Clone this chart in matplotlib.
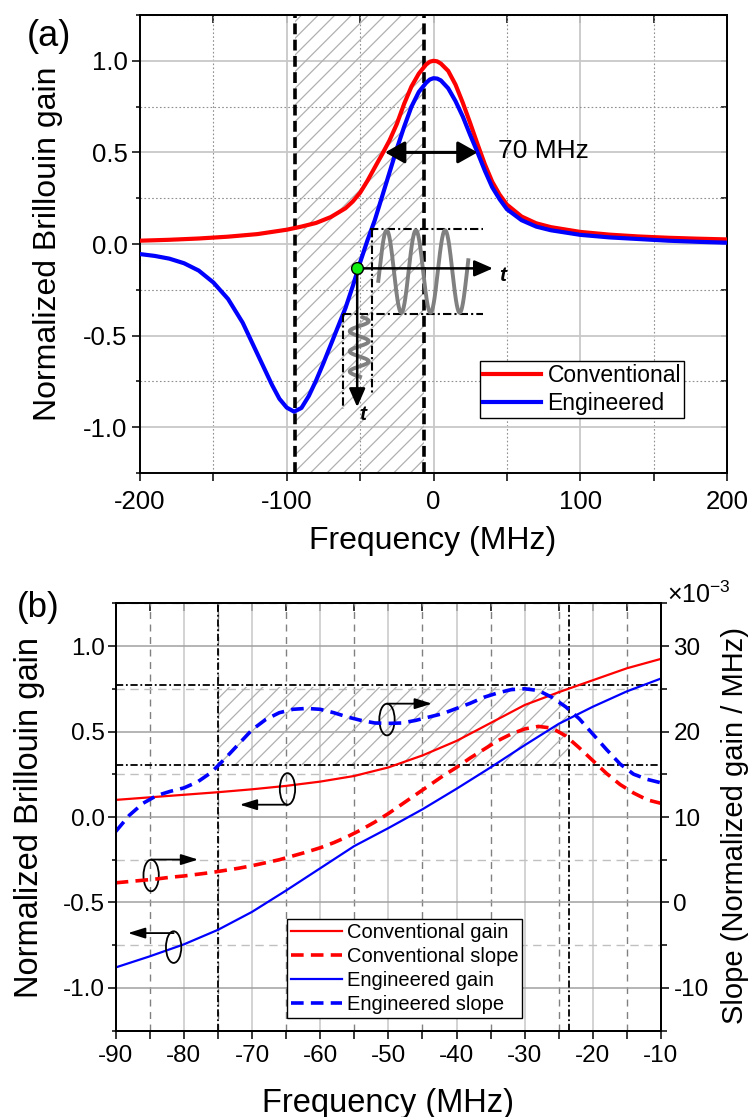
import numpy as np
import matplotlib.pyplot as plt
from matplotlib.patches import Ellipse
from matplotlib.ticker import MultipleLocator, NullFormatter

plt.rcParams['font.family'] = ['Liberation Sans', 'DejaVu Sans']
plt.rcParams['axes.unicode_minus'] = False
plt.rcParams['mathtext.default'] = 'regular'
plt.rcParams['hatch.linewidth'] = 0.9

# ---- data, panel (a) ----
freq_conv_a = [-200, -180, -160, -140, -120, -100, -90, -80, -70, -60,
               -55, -50, -45, -40, -35, -30, -25, -20, -15, -10, -5, -2.5, 0, 2.5,
               5, 10, 15, 20, 25, 30, 35, 40, 45, 50,
               60, 70, 80, 100, 120, 140, 160, 180, 200]
gain_conv_a = [0.018, 0.023, 0.030, 0.040, 0.054, 0.078, 0.095, 0.115, 0.147, 0.195,
               0.232, 0.28, 0.345, 0.418, 0.49, 0.565, 0.655, 0.765, 0.86, 0.93, 0.98, 0.995, 1.0, 0.997,
               0.985, 0.945, 0.87, 0.77, 0.66, 0.545, 0.435, 0.34, 0.27, 0.215,
               0.15, 0.113, 0.092, 0.066, 0.051, 0.041, 0.034, 0.029, 0.025]

freq_eng_a = [-200, -190, -180, -170, -160, -150, -140, -130, -120, -110,
              -105, -100, -95, -90, -85, -80, -75, -70, -65, -60, -55, -50,
              -45, -40, -35, -30, -25, -20, -15, -10, -5, -2.5, 0, 2.5, 5, 10, 15, 20,
              25, 30, 35, 40, 45, 50, 60, 70, 80, 100, 120, 140, 160, 180, 200]
gain_eng_a = [-0.055, -0.065, -0.08, -0.105, -0.145, -0.21, -0.30, -0.43, -0.60, -0.77,
              -0.845, -0.893, -0.915, -0.895, -0.83, -0.745, -0.65, -0.55, -0.45, -0.35, -0.23, -0.10,
              0.02, 0.13, 0.26, 0.39, 0.52, 0.64, 0.75, 0.83, 0.88, 0.898, 0.905, 0.903, 0.893, 0.85, 0.78, 0.695,
              0.595, 0.50, 0.40, 0.31, 0.245, 0.19, 0.13, 0.095, 0.075, 0.05, 0.036, 0.027, 0.018, 0.012, 0.007]

# ---- data, panel (b) ----
freq_gain_b = [-90, -85, -80, -75, -70, -65, -60, -55, -50, -45, -40, -35, -30, -25, -20, -15, -10]
conv_gain_b = [0.10, 0.115, 0.13, 0.145, 0.162, 0.182, 0.207, 0.24, 0.29, 0.36, 0.445,
               0.55, 0.655, 0.73, 0.80, 0.87, 0.925]
eng_gain_b = [-0.88, -0.815, -0.745, -0.66, -0.555, -0.43, -0.30, -0.17, -0.065, 0.045,
              0.165, 0.29, 0.42, 0.545, 0.645, 0.735, 0.81]

freq_slope_b = list(range(-90, -9, 2))
conv_slope_b = [2.3, 2.45, 2.6, 2.75, 2.95, 3.1, 3.3, 3.5, 3.75, 4.0, 4.3, 4.65, 5.0, 5.45,
                5.9, 6.4, 7.0, 7.7, 8.5, 9.4, 10.4, 11.5, 12.6, 13.7, 14.8, 15.8, 16.9,
                17.9, 18.9, 19.7, 20.3, 20.6, 20.4, 19.5, 18.1, 16.6, 15.1, 13.8, 12.8, 12.0, 11.6]
eng_slope_b = [8.3, 10.2, 11.6, 12.5, 13.0, 13.4, 14.1, 15.2, 16.8, 18.5, 20.2, 21.4, 22.2,
               22.6, 22.7, 22.6, 22.2, 21.7, 21.3, 21.0, 20.95, 21.0, 21.3, 21.7, 22.1, 22.7,
               23.3, 24.0, 24.5, 24.9, 25.0, 24.8, 24.0, 22.9, 21.5, 19.7, 17.9, 16.2, 15.0, 14.4, 14.0]

W, H = 750, 1117
RED = '#ff0000'
BLUE = '#0000ff'

fig = plt.figure(figsize=(7.5, 11.17), dpi=100)


def fx(px):
    return px / W


def fy(py):
    return 1 - py / H


def style_spines(ax, lw=1.4):
    for s in ax.spines.values():
        s.set_linewidth(lw)


# ================= panel (a) =================
ax1 = fig.add_axes([fx(140), fy(473), (727 - 140) / W, (473 - 15) / H])
ax1.set_xlim(-200, 200)
ax1.set_ylim(-1.25, 1.25)
ax1.xaxis.set_major_locator(MultipleLocator(100))
ax1.xaxis.set_minor_locator(MultipleLocator(50))
ax1.yaxis.set_major_locator(MultipleLocator(0.5))
ax1.yaxis.set_minor_locator(MultipleLocator(0.25))
ax1.yaxis.set_major_formatter(lambda v, p: '%.1f' % v)
ax1.grid(which='major', color='#c8c8c8', lw=1.3, ls='-')
ax1.grid(which='minor', color='#909090', lw=0.8, ls=(0, (1.5, 2)))
ax1.set_axisbelow(True)
ax1.tick_params(which='major', direction='out', length=6, width=1.1, labelsize=18.5, pad=6)
ax1.tick_params(which='minor', direction='out', length=3, width=1.1)
ax1.tick_params(axis='x', which='minor', length=6)
ax1.tick_params(axis='y', pad=3)
style_spines(ax1)

top1 = ax1.secondary_xaxis('top')
top1.xaxis.set_major_locator(MultipleLocator(50))
top1.xaxis.set_major_formatter(NullFormatter())
top1.tick_params(direction='in', length=6, width=1.1)
right1 = ax1.secondary_yaxis('right')
right1.yaxis.set_major_locator(MultipleLocator(0.25))
right1.yaxis.set_major_formatter(NullFormatter())
right1.tick_params(direction='in', length=4, width=1.1)
for sa in (top1, right1):
    style_spines(sa)

# hatched band between the two dashed lines
band_lo, band_hi = -94.3, -6.3
ax1.axvspan(band_lo, band_hi, facecolor='none', edgecolor='#b0b0b0', hatch='//', lw=0, zorder=1)
for xv in (band_lo, band_hi):
    ax1.axvline(xv, color='k', lw=2.6, ls=(0, (3, 1.5)), zorder=4)

ax1.plot(freq_conv_a, gain_conv_a, color=RED, lw=3, label='Conventional', zorder=5)
ax1.plot(freq_eng_a, gain_eng_a, color=BLUE, lw=3, label='Engineered', zorder=5)

# dash-dot guide lines around the modulation sketch
dd = dict(color='k', lw=1.5, ls=(0, (4, 1.5, 1, 1.5)), zorder=6)
ax1.plot([-43.3, 33.8], [0.082, 0.082], **dd)
ax1.plot([-61.5, 33.8], [-0.384, -0.384], **dd)
ax1.plot([-61.5, -61.5], [-0.384, -0.90], **dd)
ax1.plot([-42.1, -42.1], [0.082, -0.82], **dd)

# schematic sine waves (output / input modulation)
wave_x0, wave_x1, wave_y_mid, wave_amp, wave_period = -37.6, 23.7, -0.15, 0.225, 19.9
t_h = np.linspace(wave_x0, wave_x1, 300)
ax1.plot(t_h, wave_y_mid + wave_amp * np.cos(2 * np.pi * (t_h + 31.9) / wave_period),
         color='#808080', lw=2.8, zorder=6)
vwave_y0, vwave_y1, vwave_x_mid, vwave_amp, vwave_period = -0.40, -0.725, -50.6, 6.5, 0.11
t_v = np.linspace(vwave_y0, vwave_y1, 300)
ax1.plot(vwave_x_mid + vwave_amp * np.cos(2 * np.pi * (t_v + 0.40) / vwave_period + 1.2), t_v,
         color='#808080', lw=2.8, zorder=6)

op_x, op_y = -52, -0.133
ax1.annotate('', xy=(40.5, op_y), xytext=(op_x, op_y),
             arrowprops=dict(arrowstyle='-|>,head_length=0.8,head_width=0.35', color='k',
                             lw=1.8, mutation_scale=14, shrinkA=0, shrinkB=0), zorder=7)
ax1.annotate('', xy=(op_x, -0.89), xytext=(op_x, op_y),
             arrowprops=dict(arrowstyle='-|>,head_length=0.8,head_width=0.35', color='k',
                             lw=1.8, mutation_scale=14, shrinkA=0, shrinkB=0), zorder=7)
ax1.text(45, -0.17, 't', fontsize=15, style='italic', weight='bold', ha='left', va='center')
ax1.text(-48.5, -0.93, 't', fontsize=15, style='italic', weight='bold', ha='center', va='center')
ax1.plot([op_x], [op_y], 'o', ms=8.5, mfc='#11ee11', mec='k', mew=1, zorder=8)

# FWHM arrow
ax1.annotate('', xy=(30, 0.5), xytext=(-33, 0.5),
             arrowprops=dict(arrowstyle='<|-|>,head_length=0.8,head_width=0.45', color='k',
                             lw=2.2, mutation_scale=15, shrinkA=0, shrinkB=0), zorder=7)
ax1.text(44, 0.51, '70 MHz', fontsize=19, ha='left', va='center')

leg1 = ax1.legend(loc='lower left', bbox_to_anchor=(0.579, 0.119), borderaxespad=0,
                  fontsize=16.5, frameon=True, fancybox=False, edgecolor='k', framealpha=1,
                  handlelength=2.5, handletextpad=0.3, borderpad=0.15, labelspacing=0.2)
leg1.get_frame().set_linewidth(1.0)
leg1.set_zorder(10)

fig.text(fx(49), fy(37), '(a)', fontsize=26, ha='center', va='center')
fig.text(fx(48), fy(244), 'Normalized Brillouin gain', fontsize=23, rotation=90,
         ha='center', va='center')
fig.text(fx(433), fy(541), 'Frequency (MHz)', fontsize=23, ha='center', va='center')

# ================= panel (b) =================
ax2 = fig.add_axes([fx(115.7), fy(1030.7), (661 - 115.7) / W, (1030.7 - 603.3) / H])
ax2.set_xlim(-90, -10)
ax2.set_ylim(-1.25, 1.25)
ax2.xaxis.set_major_locator(MultipleLocator(10))
ax2.xaxis.set_minor_locator(MultipleLocator(5))
ax2.yaxis.set_major_locator(MultipleLocator(0.5))
ax2.yaxis.set_minor_locator(MultipleLocator(0.25))
ax2.yaxis.set_major_formatter(lambda v, p: '%.1f' % v)
ax2.xaxis.grid(True, which='major', color='#c8c8c8', lw=1.1, ls='-')
ax2.xaxis.grid(True, which='minor', color='#808080', lw=1.0, ls=(0, (5, 4)))
ax2.yaxis.grid(True, which='major', color='#a0a0a0', lw=1.1, ls='-')
ax2.yaxis.grid(True, which='minor', color='#c0c0c0', lw=1.0, ls=(0, (6, 4)))
ax2.set_axisbelow(True)
ax2.tick_params(which='major', direction='out', length=6, width=1.1, labelsize=17.5)
ax2.tick_params(which='minor', direction='out', length=3, width=1.1)
ax2.tick_params(axis='x', which='minor', length=6)
ax2.tick_params(axis='x', pad=4)
ax2.tick_params(axis='y', pad=1.5)
style_spines(ax2)

top2 = ax2.secondary_xaxis('top')
top2.xaxis.set_major_locator(MultipleLocator(5))
top2.xaxis.set_major_formatter(NullFormatter())
top2.tick_params(direction='in', length=6, width=1.1)
style_spines(top2)

ax2r = ax2.twinx()
ax2r.set_ylim(-15, 35)
ax2r.yaxis.set_major_locator(MultipleLocator(10))
ax2r.yaxis.set_minor_locator(MultipleLocator(5))
ax2r.tick_params(which='major', direction='out', length=6, width=1.1, labelsize=17.5, pad=3)
ax2r.tick_params(which='minor', direction='out', length=4, width=1.1)
style_spines(ax2r)

ax2.fill_between([-75, -23.5], 0.30, 0.76, facecolor='none', edgecolor='#b0b0b0',
                 hatch='//', lw=0, zorder=1)
dd2 = dict(color='k', lw=1.3, ls=(0, (4, 1.5, 1, 1.5)), zorder=2)
ax2.axvline(-75, **dd2)
ax2.axvline(-23.5, **dd2)
ax2.axhline(0.77, **dd2)
ax2.axhline(0.302, **dd2)

l1, = ax2.plot(freq_gain_b, conv_gain_b, color=RED, lw=1.6, label='Conventional gain', zorder=3)
l3, = ax2.plot(freq_gain_b, eng_gain_b, color=BLUE, lw=1.6, label='Engineered gain', zorder=3)
l2, = ax2r.plot(freq_slope_b, conv_slope_b, color=RED, lw=2.6, ls=(0, (3.5, 2)),
                label='Conventional slope')
l4, = ax2r.plot(freq_slope_b, eng_slope_b, color=BLUE, lw=2.6, ls=(0, (3.5, 2)),
                label='Engineered slope')

# ellipses with arrows marking which axis each curve belongs to
ell_w, ell_h = 2.25, 0.185
arrow_kw = dict(arrowstyle='-|>,head_length=0.8,head_width=0.25', color='k', lw=1.3,
                mutation_scale=13, shrinkA=0, shrinkB=0)
marks = [(-64.8, 0.164, 0.072, -71.8),
         (-50.2, 0.57, 0.663, -43.6),
         (-84.8, -0.342, -0.249, -77.9),
         (-81.5, -0.761, -0.679, -88.2)]
for cx, cy, ay, ax_end in marks:
    ax2.add_patch(Ellipse((cx, cy), ell_w, ell_h, fill=False, ec='k', lw=1.3, zorder=6))
    ax2.annotate('', xy=(ax_end, ay), xytext=(cx, ay), arrowprops=arrow_kw, zorder=6)

leg2 = ax2r.legend(handles=[l1, l2, l3, l4], loc='lower left', bbox_to_anchor=(0.3147, 0.029),
                   borderaxespad=0, fontsize=14.5, frameon=True, fancybox=False, edgecolor='k',
                   framealpha=1, handlelength=2.5, handletextpad=0.25, borderpad=0.2,
                   labelspacing=0.25)
leg2.get_frame().set_linewidth(1.0)

fig.text(fx(38), fy(607), '(b)', fontsize=25, ha='center', va='center')
fig.text(fx(30), fy(817), 'Normalized Brillouin gain', fontsize=23.5, rotation=90,
         ha='center', va='center')
fig.text(fx(735), fy(825), 'Slope (Normalized gain / MHz)', fontsize=21, rotation=90,
         ha='center', va='center')
fig.text(fx(699), fy(595), r'$\times$10$^{-3}$', fontsize=18, ha='center', va='center')
fig.text(fx(388), fy(1112), 'Frequency (MHz)', fontsize=23.5, ha='center', va='baseline')

fig.savefig('out.png', dpi=100)
